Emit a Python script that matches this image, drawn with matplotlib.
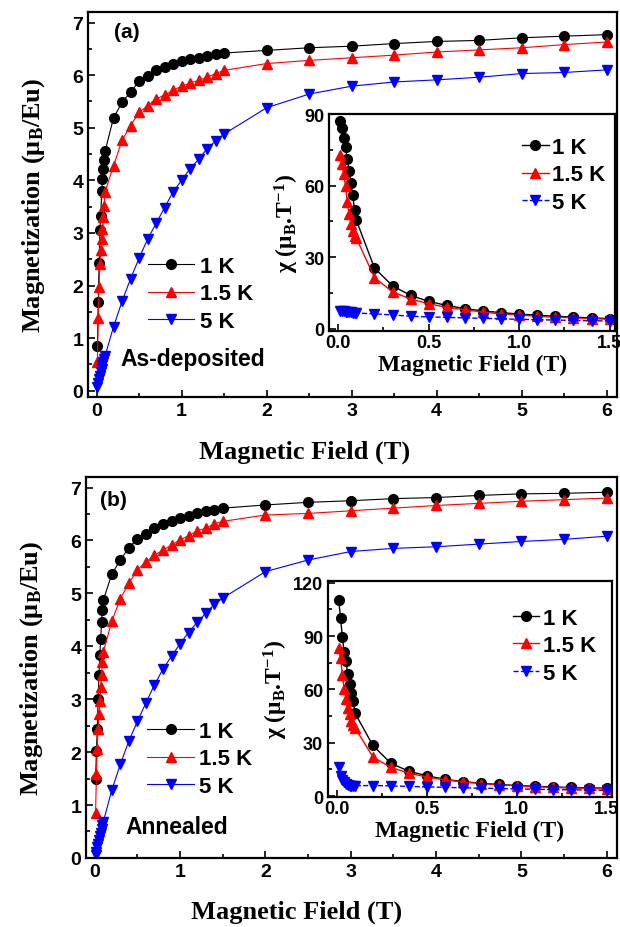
import matplotlib
matplotlib.use("Agg")
import matplotlib.pyplot as plt
from matplotlib.ticker import MultipleLocator

plt.rcParams['font.family'] = ['Liberation Sans', 'DejaVu Sans']
plt.rcParams['mathtext.fontset'] = 'custom'
plt.rcParams['mathtext.rm'] = 'Liberation Serif'
plt.rcParams['mathtext.bf'] = 'Liberation Serif:bold'
plt.rcParams['mathtext.it'] = 'Liberation Serif:italic:bold'

# ---------------- data ----------------
field_main = [0.01, 0.02, 0.03, 0.04, 0.05, 0.06, 0.07, 0.08, 0.09, 0.1,
              0.2, 0.3, 0.4, 0.5, 0.6, 0.7, 0.8, 0.9, 1.0, 1.1, 1.2, 1.3, 1.4, 1.5,
              2.0, 2.5, 3.0, 3.5, 4.0, 4.5, 5.0, 5.5, 6.0]
field_chi = [0.01, 0.02, 0.03, 0.04, 0.05, 0.06, 0.07, 0.08, 0.09, 0.1,
             0.2, 0.3, 0.4, 0.5, 0.6, 0.7, 0.8, 0.9, 1.0, 1.1, 1.2, 1.3, 1.4, 1.5]
labels = ['1 K', '1.5 K', '5 K']

# (a) as-deposited: magnetization (muB/Eu)
Ma_1K = [0.85, 1.68, 2.42, 3.05, 3.33, 3.79, 4.03, 4.22, 4.38, 4.55,
         5.19, 5.48, 5.68, 5.88, 5.98, 6.09, 6.15, 6.22, 6.27, 6.30, 6.33, 6.36, 6.40, 6.42,
         6.47, 6.52, 6.55, 6.60, 6.64, 6.66, 6.71, 6.74, 6.77]
Ma_15K = [0.55, 1.38, 1.97, 2.41, 2.67, 2.89, 3.08, 3.30, 3.52, 3.78,
          4.28, 4.76, 5.04, 5.29, 5.42, 5.55, 5.62, 5.71, 5.79, 5.85, 5.90, 5.96, 6.03, 6.09,
          6.22, 6.28, 6.33, 6.38, 6.44, 6.48, 6.52, 6.58, 6.63]
Ma_5K = [0.075, 0.148, 0.219, 0.288, 0.355, 0.42, 0.483, 0.544, 0.603, 0.66,
         1.22, 1.70, 2.13, 2.52, 2.88, 3.18, 3.48, 3.78, 4.00, 4.22, 4.40, 4.60, 4.75, 4.88,
         5.38, 5.64, 5.79, 5.87, 5.91, 5.96, 6.03, 6.05, 6.10]
# (a) susceptibility (muB/T)
Ca_1K = [87, 84, 80, 76, 71, 66, 61, 56, 50, 45.5,
         25.5, 18.0, 14.0, 11.5, 9.8, 8.5, 7.5, 6.8, 6.2, 5.7, 5.3, 4.9, 4.6, 4.3]
Ca_15K = [73, 69, 65, 60, 53, 48, 44, 41, 39, 38,
          21.5, 15.5, 12.5, 10.5, 9.0, 8.0, 7.0, 6.3, 5.8, 5.3, 4.9, 4.6, 4.3, 4.0]
Ca_5K = [7.5, 7.4, 7.3, 7.2, 7.1, 7.0, 6.9, 6.8, 6.7, 6.6,
         6.3, 5.8, 5.3, 5.0, 4.8, 4.6, 4.4, 4.2, 4.0, 3.8, 3.7, 3.5, 3.4, 3.3]

# (b) annealed: magnetization (muB/Eu)
Mb_1K = [1.50, 2.02, 2.43, 3.00, 3.45, 3.83, 4.14, 4.45, 4.68, 4.87,
         5.36, 5.63, 5.86, 6.03, 6.12, 6.24, 6.31, 6.37, 6.42, 6.47, 6.51, 6.56, 6.58, 6.61,
         6.67, 6.72, 6.75, 6.79, 6.81, 6.85, 6.88, 6.89, 6.91]
Mb_15K = [0.85, 1.58, 2.06, 2.43, 2.72, 2.97, 3.23, 3.46, 3.70, 3.89,
          4.47, 4.90, 5.19, 5.44, 5.59, 5.72, 5.82, 5.91, 6.01, 6.09, 6.18, 6.23, 6.31, 6.36,
          6.48, 6.51, 6.56, 6.61, 6.66, 6.70, 6.74, 6.77, 6.80]
Mb_5K = [0.05, 0.12, 0.20, 0.27, 0.34, 0.41, 0.48, 0.55, 0.62, 0.68,
         1.28, 1.77, 2.21, 2.58, 2.93, 3.27, 3.57, 3.81, 4.05, 4.26, 4.45, 4.62, 4.79, 4.91,
         5.41, 5.63, 5.79, 5.85, 5.88, 5.93, 5.98, 6.02, 6.08]
# (b) susceptibility (muB/T)
Cb_1K = [110, 100, 89.5, 81, 75.7, 68.7, 63, 57.8, 53.5, 46.7,
         28.5, 18.5, 14.0, 11.5, 9.5, 8.2, 7.3, 6.6, 6.0, 5.6, 5.2, 4.9, 4.7, 4.5]
Cb_15K = [83, 77.5, 68.3, 60, 54.5, 49.5, 46, 42.5, 40, 38.5,
          22.0, 16.2, 12.9, 10.8, 9.2, 8.0, 7.1, 6.4, 5.8, 5.3, 4.9, 4.6, 4.4, 4.2]
Cb_5K = [16.6, 11.4, 9.2, 7.8, 6.8, 6.3, 6.0, 5.9, 5.9, 5.9,
         6.0, 5.8, 5.5, 5.2, 5.0, 4.7, 4.5, 4.3, 4.1, 3.9, 3.7, 3.6, 3.4, 3.3]

colors = ['black', 'red', 'blue']
markers = ['o', '^', 'v']

fig = plt.figure(figsize=(6.2, 9.28), dpi=100)

serif_bold = dict(family='Liberation Serif', weight='bold')


def style_axes(ax, fs):
    ax.tick_params(which='both', direction='in', width=1.2, labelsize=fs)
    ax.tick_params(which='major', length=5)
    ax.tick_params(which='minor', length=3)
    for lab in ax.get_xticklabels() + ax.get_yticklabels():
        lab.set_fontweight('bold')
    for s in ax.spines.values():
        s.set_linewidth(1.6)


def main_panel(rect, series, ylim, tag, note, tagpos, notepos, legpos, xlab_x):
    ax = fig.add_axes(rect)
    for y, c, m, lab in zip(series, colors, markers, labels):
        ax.plot(field_main, y, color=c, marker=m, ms=7, lw=0.8, label=lab)
    ax.set_xlim(-0.1, 6.12)
    ax.set_ylim(*ylim)
    ax.xaxis.set_major_locator(MultipleLocator(1))
    ax.xaxis.set_minor_locator(MultipleLocator(0.5))
    ax.yaxis.set_major_locator(MultipleLocator(1))
    ax.yaxis.set_minor_locator(MultipleLocator(0.5))
    style_axes(ax, 14)
    ax.set_xlabel('Magnetic Field (T)', fontsize=19, **serif_bold)
    ax.xaxis.set_label_coords(xlab_x, -0.11)
    ax.set_ylabel(r'Magnetization ($\mathbf{\mu}_\mathbf{B}$/Eu)', fontsize=19, labelpad=18, **serif_bold)
    ax.text(*tagpos, tag, fontsize=15, fontweight='bold', va='center')
    ax.text(*notepos, note, fontsize=16.5, fontweight='bold', va='center')
    ax.legend(loc='center left', bbox_to_anchor=legpos, frameon=False,
              prop=dict(size=16, weight='bold'), handlelength=2.1,
              handletextpad=0.25, labelspacing=0.3, borderaxespad=0, borderpad=0)
    return ax


def inset_panel(rect, series, ylim, ytick, legpos):
    ax = fig.add_axes(rect)
    for i, (y, c, m, lab) in enumerate(zip(series, colors, markers, labels)):
        ls = '--' if i == 2 else '-'
        ax.plot(field_chi, y, color=c, marker=m, ms=7, lw=1.0, ls=ls, label=lab)
    ax.set_xlim(-0.05, 1.53)
    ax.set_ylim(*ylim)
    ax.xaxis.set_major_locator(MultipleLocator(0.5))
    ax.xaxis.set_minor_locator(MultipleLocator(0.25))
    ax.yaxis.set_major_locator(MultipleLocator(ytick))
    ax.yaxis.set_minor_locator(MultipleLocator(ytick / 2))
    style_axes(ax, 13)
    ax.tick_params(axis='x', pad=2)
    ax.set_xlabel('Magnetic Field (T)', fontsize=17, labelpad=2, **serif_bold)
    ax.set_ylabel(r'$\mathbf{\chi}$ ($\mathbf{\mu}_\mathbf{B}$.T$^\mathbf{-1}$)', fontsize=17, labelpad=2, **serif_bold)
    ax.legend(loc='center left', bbox_to_anchor=legpos, frameon=False,
              prop=dict(size=16, weight='bold'), handlelength=1.2,
              handletextpad=0.15, labelspacing=0.3, borderaxespad=0, borderpad=0)
    return ax


main_panel([0.142, 0.571, 0.853, 0.415], [Ma_1K, Ma_15K, Ma_5K], (-0.12, 7.2),
           '(a)', 'As-deposited', (0.2, 6.83), (0.28, 0.61), (0.113, 0.268), 0.41)
inset_panel([0.531, 0.642, 0.461, 0.234], [Ca_1K, Ca_15K, Ca_5K], (-1, 90), 30, (0.675, 0.72))

main_panel([0.139, 0.0744, 0.856, 0.4106], [Mb_1K, Mb_15K, Mb_5K], (0, 7.2),
           '(b)', 'Annealed', (0.06, 6.77), (0.365, 0.59), (0.115, 0.26), 0.397)
inset_panel([0.529, 0.140, 0.458, 0.233], [Cb_1K, Cb_15K, Cb_5K], (-0.5, 121), 30, (0.65, 0.70))

fig.savefig('out.png', dpi=100)
